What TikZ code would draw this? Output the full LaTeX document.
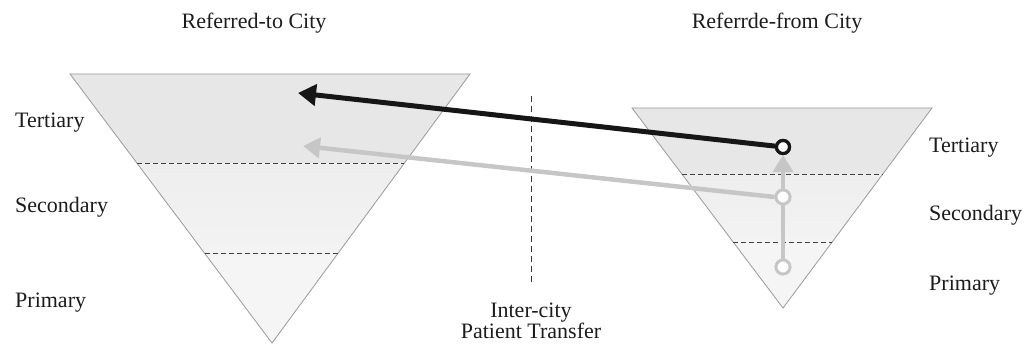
\documentclass[tikz,border=0pt]{standalone}
\usepackage{fontspec}
\setmainfont{Liberation Serif}
\usetikzlibrary{arrows.meta,calc}
\definecolor{bandA}{HTML}{E7E7E7}
\definecolor{bandB}{HTML}{EEEEEE}
\definecolor{bandC}{HTML}{F3F3F3}
\definecolor{bandD}{HTML}{F5F5F5}
\definecolor{triline}{HTML}{9A9A9A}
\definecolor{lightgray}{HTML}{C6C6C6}
\definecolor{darkline}{HTML}{161616}
\definecolor{txt}{HTML}{1C1C1C}
\begin{document}
\begin{tikzpicture}[x=1pt,y=-1pt,
  lbl/.style={font=\fontsize{22}{22}\selectfont, text=txt, inner sep=0pt},
  tri/.style={draw=triline, line width=0.8pt, line join=miter},
  levelline/.style={draw=black!75, line width=0.9pt, dash pattern=on 5pt off 3pt},
  midline/.style={draw=black!80, line width=0.9pt, dash pattern=on 6pt off 4pt},
  blackarrow/.style={draw=darkline, line width=5pt, -{Triangle[length=18pt,width=21pt]}},
  grayarrow/.style={draw=lightgray, line width=4.5pt, -{Triangle[length=17pt,width=20pt]}},
  blackdot/.style={circle, draw=darkline, fill=white, line width=3.2pt, minimum size=13pt, inner sep=0pt},
  graydot/.style={circle, draw=lightgray, fill=white, line width=2.8pt, minimum size=14pt, inner sep=0pt}
]
\useasboundingbox (0,0) rectangle (1032,347);

% left triangle
\coordinate (L1) at (70,74);
\coordinate (R1) at (470,74);
\coordinate (A1) at (272,343);
\coordinate (p11) at ($(L1)!0.333!(A1)$);
\coordinate (q11) at ($(R1)!0.333!(A1)$);
\coordinate (p12) at ($(L1)!0.667!(A1)$);
\coordinate (q12) at ($(R1)!0.667!(A1)$);
\fill[bandA] (L1) -- (R1) -- (q11) -- (p11) -- cycle;
\shade[top color=bandB, bottom color=bandC] (p11) -- (q11) -- (q12) -- (p12) -- cycle;
\fill[bandD] (p12) -- (q12) -- (A1) -- cycle;
\draw[tri] (L1) -- (R1) -- (A1) -- cycle;
\draw[levelline] (p11) -- (q11);
\draw[levelline] (p12) -- (q12);

% right triangle
\coordinate (L2) at (632,108);
\coordinate (R2) at (932,108);
\coordinate (A2) at (783,308);
\coordinate (p21) at ($(L2)!0.33!(A2)$);
\coordinate (q21) at ($(R2)!0.33!(A2)$);
\coordinate (p22) at ($(L2)!0.67!(A2)$);
\coordinate (q22) at ($(R2)!0.67!(A2)$);
\fill[bandA] (L2) -- (R2) -- (q21) -- (p21) -- cycle;
\shade[top color=bandB, bottom color=bandC] (p21) -- (q21) -- (q22) -- (p22) -- cycle;
\fill[bandD] (p22) -- (q22) -- (A2) -- cycle;
\draw[tri] (L2) -- (R2) -- (A2) -- cycle;
\draw[levelline] (p21) -- (q21);
\draw[levelline] (p22) -- (q22);

% middle dashed divider
\coordinate (m1) at (531,96);
\coordinate (m2) at (531,283);
\draw[midline] (m1) -- (m2);

% titles and labels
\node[lbl, anchor=base] (t1) at (254,29) {Referred-to City};
\node[lbl, anchor=base] (t2) at (777,29) {Referrde-from City};
\node[lbl, anchor=base west] (lt) at (15,128) {Tertiary};
\node[lbl, anchor=base west] (ls) at (15,213) {Secondary};
\node[lbl, anchor=base west] (lp) at (15,307) {Primary};
\node[lbl, anchor=base west] (rt) at (929,153) {Tertiary};
\node[lbl, anchor=base west] (rs) at (929,221) {Secondary};
\node[lbl, anchor=base west] (rp) at (929,290) {Primary};
\node[lbl, anchor=base] (ic) at (531,317) {Inter-city};
\node[lbl, anchor=base] (pt) at (531,338) {Patient Transfer};

% dots
\node[blackdot] (bt) at (783,147) {};
\node[graydot] (gs) at (783,197) {};
\node[graydot] (gp) at (783,267) {};
\coordinate (tipB) at (298,93);
\coordinate (tipG) at (303,146);

% arrows
\draw[grayarrow] (gs.west) -- (tipG);
\draw[grayarrow] (gp) -- (bt);
\draw[blackarrow] (bt) -- (tipB);
\node[graydot] at (gs) {};
\node[graydot] at (gp) {};
\node[blackdot] at (bt) {};
\end{tikzpicture}
\end{document}
